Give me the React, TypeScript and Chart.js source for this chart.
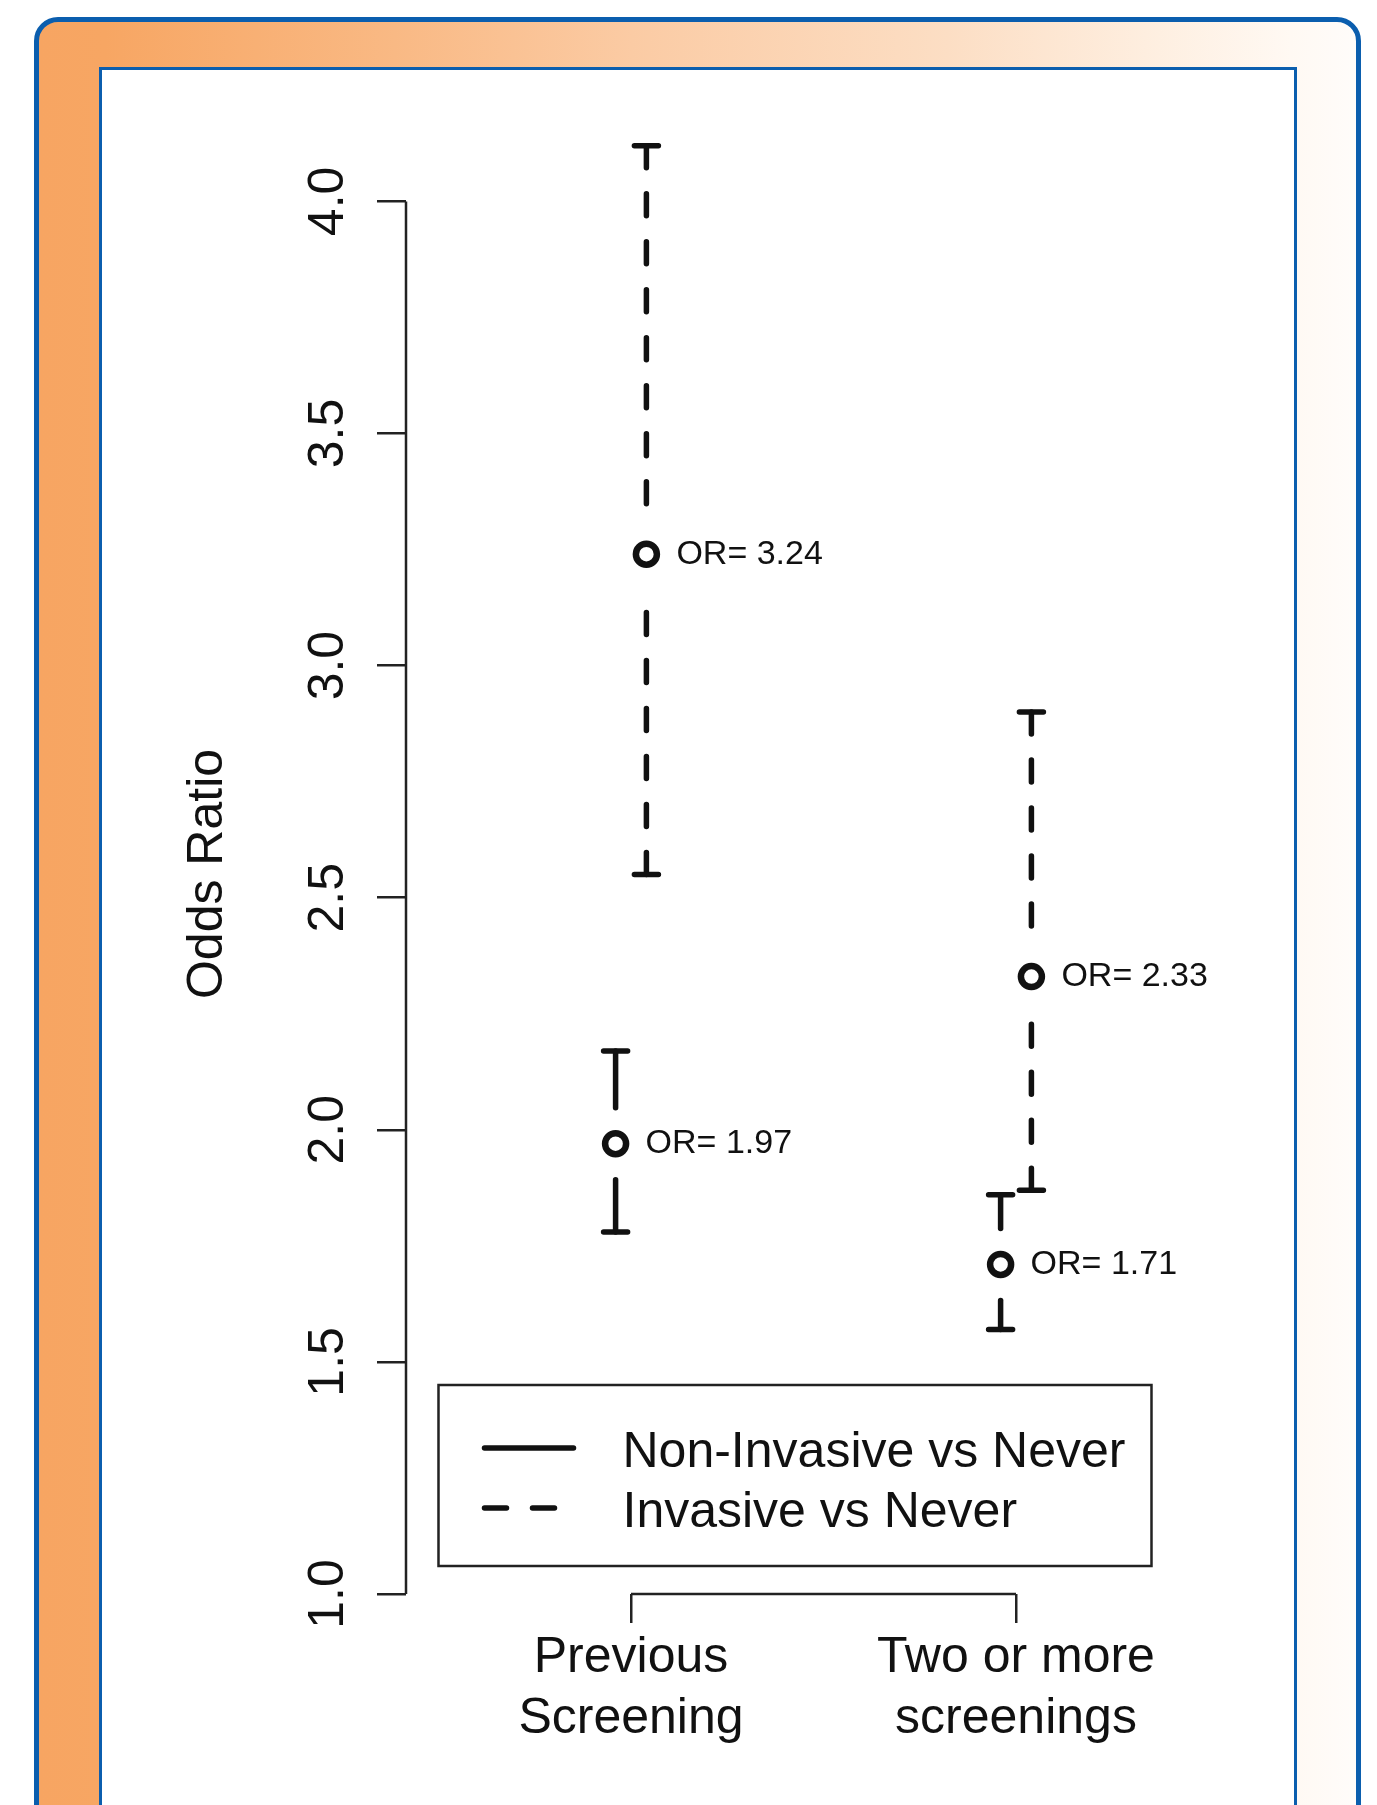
import React, { useEffect, useRef } from "react";
import { Chart, registerables } from "chart.js";

Chart.register(...registerables);

// ---------- data ----------
const CATEGORIES: string[][] = [
  ["Previous", "Screening"],
  ["Two or more", "screenings"],
];
const SERIES_LABELS = ["Non-Invasive vs Never", "Invasive vs Never"];
const NON_INVASIVE_OR = [1.97, 1.71];
const NON_INVASIVE_LOWER = [1.78, 1.57];
const NON_INVASIVE_UPPER = [2.17, 1.86];
const INVASIVE_OR = [3.24, 2.33];
const INVASIVE_LOWER = [2.55, 1.87];
const INVASIVE_UPPER = [4.12, 2.9];
const Y_TICKS = [1.0, 1.5, 2.0, 2.5, 3.0, 3.5, 4.0];
const X_TICKS = [1, 2];
const Y_TITLE = "Odds Ratio";

// ---------- style ----------
const FONT = '"Liberation Sans", Arial, Helvetica, sans-serif';
const INK = "#111111";
const AXIS = "#222222";
const BLUE = "#0B5EAE";
const DASH = [22, 26];
const SERIES_DASH = [[], DASH];
const CI_LOWER = [NON_INVASIVE_LOWER, INVASIVE_LOWER];
const CI_UPPER = [NON_INVASIVE_UPPER, INVASIVE_UPPER];
const X_OFFSET = [-0.04, 0.04];
const GAP = 36;

const rStylePlugin = {
  id: "rStyle",
  afterDraw(chart: any) {
    const { ctx, chartArea: ca, scales } = chart;
    const xs = scales.x;
    const ys = scales.y;
    ctx.save();

    // y axis line (from first to last tick)
    ctx.strokeStyle = AXIS;
    ctx.lineWidth = 2.5;
    ctx.lineCap = "butt";
    ctx.setLineDash([]);
    ctx.beginPath();
    ctx.moveTo(ca.left, ys.getPixelForValue(Y_TICKS[0]));
    ctx.lineTo(ca.left, ys.getPixelForValue(Y_TICKS[Y_TICKS.length - 1]));
    ctx.stroke();

    // x axis bracket line
    ctx.beginPath();
    ctx.moveTo(xs.getPixelForValue(X_TICKS[0]), ca.bottom);
    ctx.lineTo(xs.getPixelForValue(X_TICKS[X_TICKS.length - 1]), ca.bottom);
    ctx.stroke();

    // y tick labels (rotated, R style)
    ctx.fillStyle = INK;
    ctx.font = `50px ${FONT}`;
    ctx.textAlign = "center";
    ctx.textBaseline = "alphabetic";
    Y_TICKS.forEach((v) => {
      const py = ys.getPixelForValue(v);
      ctx.save();
      ctx.translate(ca.left - 63, py);
      ctx.rotate(-Math.PI / 2);
      ctx.fillText(v.toFixed(1), 0, 0);
      ctx.restore();
    });

    // y title
    ctx.save();
    ctx.translate(ca.left - 184, ca.bottom - 720);
    ctx.rotate(-Math.PI / 2);
    ctx.fillText(Y_TITLE, 0, 0);
    ctx.restore();

    // x category labels
    CATEGORIES.forEach((lines, i) => {
      const px = xs.getPixelForValue(X_TICKS[i]);
      lines.forEach((t, li) => {
        ctx.fillText(t, px, ca.bottom + 78 + li * 61);
      });
    });

    // error bars + OR labels
    chart.data.datasets.forEach((ds: any, di: number) => {
      const meta = chart.getDatasetMeta(di);
      meta.data.forEach((pt: any, i: number) => {
        const px = pt.x;
        const py = pt.y;
        const yu = ys.getPixelForValue(CI_UPPER[di][i]);
        const yl = ys.getPixelForValue(CI_LOWER[di][i]);
        ctx.strokeStyle = INK;
        ctx.lineWidth = 5.5;
        ctx.lineCap = "round";
        // stems
        ctx.setLineDash(SERIES_DASH[di]);
        ctx.lineDashOffset = 0;
        ctx.beginPath();
        ctx.moveTo(px, yu);
        ctx.lineTo(px, py - GAP);
        ctx.stroke();
        ctx.beginPath();
        ctx.moveTo(px, yl);
        ctx.lineTo(px, py + GAP);
        ctx.stroke();
        // caps
        ctx.setLineDash([]);
        ctx.beginPath();
        ctx.moveTo(px - 12, yu);
        ctx.lineTo(px + 12, yu);
        ctx.moveTo(px - 12, yl);
        ctx.lineTo(px + 12, yl);
        ctx.stroke();
        // label
        ctx.fillStyle = INK;
        ctx.font = `34px ${FONT}`;
        ctx.textAlign = "left";
        ctx.textBaseline = "middle";
        ctx.fillText(`OR= ${ds.data[i].y.toFixed(2)}`, px + 30, py);
      });
    });

    // legend box
    const lx = xs.getPixelForValue(0.5);
    const lt = ca.bottom - 209;
    const lw = 713;
    const lh = 181;
    ctx.setLineDash([]);
    ctx.lineCap = "butt";
    ctx.strokeStyle = AXIS;
    ctx.lineWidth = 2.5;
    ctx.strokeRect(lx, lt, lw, lh);
    ctx.font = `50px ${FONT}`;
    ctx.textAlign = "left";
    ctx.textBaseline = "alphabetic";
    chart.data.datasets.forEach((ds: any, di: number) => {
      const base = lt + 82 + di * 60;
      const ly = base - 19;
      ctx.strokeStyle = INK;
      ctx.lineWidth = 5.5;
      ctx.lineCap = "round";
      ctx.setLineDash(SERIES_DASH[di]);
      ctx.beginPath();
      ctx.moveTo(lx + 46, ly);
      ctx.lineTo(lx + 135, ly);
      ctx.stroke();
      ctx.setLineDash([]);
      ctx.fillStyle = INK;
      ctx.fillText(ds.label, lx + 184, base);
    });

    ctx.restore();
  },
};

export default function App() {
  const canvasRef = useRef<HTMLCanvasElement | null>(null);

  useEffect(() => {
    if (!canvasRef.current) return;
    const mkData = (vals: number[], si: number) =>
      vals.map((y, i) => ({ x: X_TICKS[i] + X_OFFSET[si], y }));
    const pointStyle = {
      showLine: false,
      pointRadius: 10.5,
      pointHoverRadius: 10.5,
      pointBorderWidth: 6.5,
      pointBorderColor: INK,
      pointBackgroundColor: "#ffffff",
      borderColor: INK,
      backgroundColor: "#ffffff",
    };
    const gridOpts = {
      drawOnChartArea: false,
      drawTicks: true,
      tickLength: 29,
      color: AXIS,
      lineWidth: 2.5,
    };
    const chart = new Chart(canvasRef.current, {
      type: "scatter",
      data: {
        datasets: [
          { label: SERIES_LABELS[0], data: mkData(NON_INVASIVE_OR, 0), ...pointStyle },
          { label: SERIES_LABELS[1], data: mkData(INVASIVE_OR, 1), ...pointStyle },
        ],
      },
      options: {
        responsive: false,
        animation: false,
        devicePixelRatio: 1,
        layout: { padding: { left: 366, top: 130, right: 137, bottom: 171 } },
        plugins: { legend: { display: false }, tooltip: { enabled: false } },
        events: [],
        scales: {
          x: {
            type: "linear",
            position: "bottom",
            min: 0.4156,
            max: 2.5818,
            afterBuildTicks: (s: any) => {
              s.ticks = X_TICKS.map((v) => ({ value: v }));
            },
            afterFit: (s: any) => {
              s.height = 40;
            },
            grid: gridOpts,
            border: { display: false },
            ticks: { display: false },
          },
          y: {
            type: "linear",
            position: "left",
            min: 1.0,
            max: 4.1538,
            afterBuildTicks: (s: any) => {
              s.ticks = Y_TICKS.map((v) => ({ value: v }));
            },
            afterFit: (s: any) => {
              s.width = 40;
            },
            grid: gridOpts,
            border: { display: false },
            ticks: { display: false },
          },
        },
      } as any,
      plugins: [rStylePlugin],
    });
    return () => chart.destroy();
  }, []);

  return (
    <div
      style={{
        position: "absolute",
        left: 0,
        top: 0,
        width: 1377,
        height: 1805,
        overflow: "hidden",
        background: "#ffffff",
      }}
    >
      <div
        style={{
          position: "absolute",
          left: 34,
          top: 17,
          width: 1327,
          height: 1950,
          boxSizing: "border-box",
          border: `5px solid ${BLUE}`,
          borderRadius: 24,
          background:
            "linear-gradient(to right, #F7A562 0%, #F7A663 5%, #F9B984 27%, #FBCBA4 45%, #FCDEC4 69%, #FEEEDF 84%, #FFF9F3 95%, #FFFCFA 100%)",
        }}
      />
      <div
        style={{
          position: "absolute",
          left: 99,
          top: 67,
          width: 1198,
          height: 1950,
          boxSizing: "border-box",
          border: `3px solid ${BLUE}`,
          background: "#ffffff",
        }}
      />
      <canvas
        ref={canvasRef}
        width={1377}
        height={1805}
        style={{ position: "absolute", left: 0, top: 0, width: 1377, height: 1805 }}
      />
    </div>
  );
}
